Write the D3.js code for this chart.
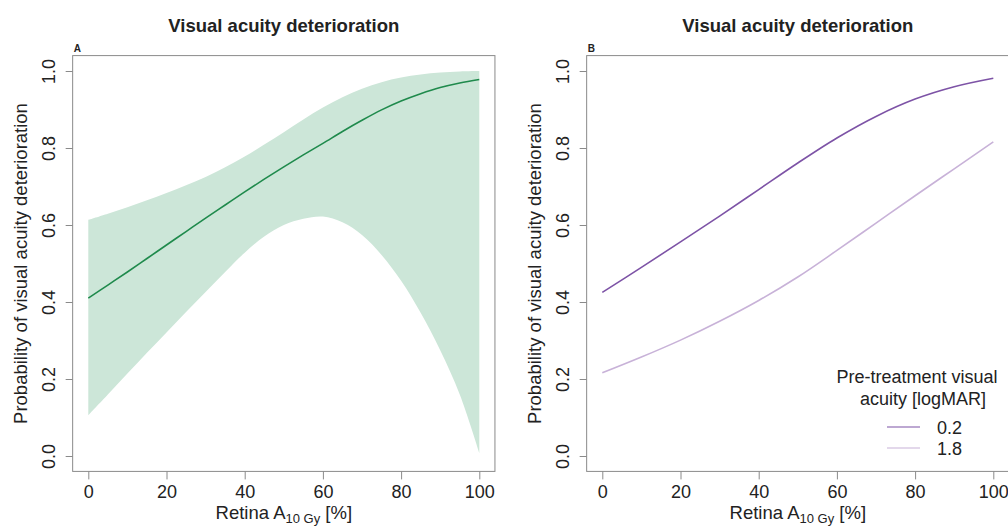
<!DOCTYPE html>
<html>
<head>
<meta charset="utf-8">
<script src="https://cdn.jsdelivr.net/npm/d3@7"></script>
<style>
  body { margin: 0; background: #fff; }
  text { font-family: "Liberation Sans", Arial, sans-serif; fill: #222; }
</style>
</head>
<body>
<script>
var width = 1008
var height = 526

// Panel A: fitted probability with confidence band
var doseA   = [0, 5, 10, 15, 20, 25, 30, 35, 40, 45, 50, 55, 60, 65, 70, 75, 80, 85, 90, 95, 100]
var fitA    = [0.41, 0.444, 0.478, 0.513, 0.548, 0.583, 0.618, 0.652, 0.686, 0.719, 0.751,
               0.782, 0.812, 0.843, 0.872, 0.899, 0.922, 0.941, 0.957, 0.969, 0.978]
var upperA  = [0.613, 0.629, 0.646, 0.664, 0.683, 0.703, 0.725, 0.75, 0.778, 0.809, 0.841,
               0.874, 0.905, 0.932, 0.954, 0.971, 0.983, 0.991, 0.996, 0.999, 1.0]
var lowerA  = [0.106, 0.16, 0.214, 0.268, 0.321, 0.374, 0.426, 0.478, 0.528, 0.57, 0.6,
               0.616, 0.622, 0.607, 0.574, 0.522, 0.455, 0.372, 0.275, 0.16, 0.008]

// Panel B: two pre-treatment acuity levels
var doseB   = [0, 10, 20, 30, 40, 50, 60, 70, 80, 90, 100]
var acuity  = ["0.2", "1.8"]
var probLow  = [0.425, 0.49, 0.556, 0.623, 0.692, 0.761, 0.826, 0.882, 0.927, 0.959, 0.981]
var probHigh = [0.216, 0.257, 0.301, 0.35, 0.404, 0.465, 0.534, 0.605, 0.676, 0.746, 0.816]

var xTicks = [0, 20, 40, 60, 80, 100]
var yTicks = [0, 0.2, 0.4, 0.6, 0.8, 1.0]

var title = "Visual acuity deterioration"
var yTitle = "Probability of visual acuity deterioration"
var legendTitle = ["Pre-treatment visual", "acuity [logMAR]"]

var green = "#1f8a4c"
var band = "#cce6d8"
var purples = ["#7d53a6", "#c8b2d8"]
var grey = "#8a8a8a"
var fs = 18

var svg = d3.select("body")
  .append("svg")
  .attr("width", width)
  .attr("height", height)

function panel(offset, label) {
  var x = d3.scaleLinear().domain([0, 100]).range([88.3 + offset, 479.3 + offset])
  var y = d3.scaleLinear().domain([0, 1]).range([456, 71])
  var g = svg.append("g")

  // plot box (R style 4% padding)
  g.append("rect")
    .attr("x", x(-4)).attr("y", y(1.04))
    .attr("width", x(104) - x(-4)).attr("height", y(-0.04) - y(1.04))
    .attr("fill", "none").attr("stroke", grey).attr("stroke-width", 1)

  // x axis
  var xa = g.append("g")
    .attr("transform", "translate(0," + y(-0.04) + ")")
    .call(d3.axisBottom(x).tickValues(xTicks).tickSize(8).tickPadding(6).tickFormat(d3.format("d")))
  xa.select(".domain").remove()
  xa.selectAll("line").attr("stroke", grey)
  xa.selectAll("text").attr("font-size", fs).attr("fill", "#222")
    .attr("font-family", "Liberation Sans, Arial, sans-serif")

  // y axis with rotated labels
  var ya = g.append("g")
    .attr("transform", "translate(" + x(-4) + ",0)")
    .call(d3.axisLeft(y).tickValues(yTicks).tickSize(7).tickFormat(d3.format(".1f")))
  ya.select(".domain").remove()
  ya.selectAll("line").attr("stroke", grey)
  ya.selectAll("text")
    .attr("x", null).attr("dy", null)
    .attr("text-anchor", "middle")
    .attr("transform", "translate(-18,0) rotate(-90)")
    .attr("font-size", fs).attr("fill", "#222")
    .attr("font-family", "Liberation Sans, Arial, sans-serif")

  // titles
  g.append("text")
    .attr("x", (x(0) + x(100)) / 2).attr("y", 32)
    .attr("text-anchor", "middle")
    .attr("font-size", 18.5).attr("font-weight", "bold")
    .text(title)

  g.append("text")
    .attr("x", x(-4) + 1).attr("y", 52)
    .attr("font-size", 10).attr("font-weight", "bold")
    .text(label)

  var xt = g.append("text")
    .attr("x", (x(0) + x(100)) / 2).attr("y", 519)
    .attr("text-anchor", "middle")
    .attr("font-size", 18.5)
  xt.append("tspan").text("Retina A")
  xt.append("tspan").attr("font-size", 13).attr("dy", 3.5).text("10 Gy")
  xt.append("tspan").attr("dy", -3.5).text(" [%]")

  g.append("text")
    .attr("transform", "translate(" + (27 + offset) + "," + y(0.5) + ") rotate(-90)")
    .attr("text-anchor", "middle")
    .attr("font-size", 18.5)
    .text(yTitle)

  return { g: g, x: x, y: y }
}

var A = panel(0, "A")
var B = panel(514, "B")

// Panel A: band then fitted line
var area = d3.area()
  .x(function(d, i) { return A.x(doseA[i]) })
  .y0(function(d, i) { return A.y(lowerA[i]) })
  .y1(function(d, i) { return A.y(upperA[i]) })
  .curve(d3.curveCatmullRom)

A.g.append("path")
  .datum(doseA)
  .attr("d", area)
  .attr("fill", band)

var lineA = d3.line()
  .x(function(d, i) { return A.x(doseA[i]) })
  .y(function(d) { return A.y(d) })
  .curve(d3.curveCatmullRom)

A.g.append("path")
  .datum(fitA)
  .attr("d", lineA)
  .attr("fill", "none")
  .attr("stroke", green)
  .attr("stroke-width", 1.6)

// Panel B: two curves
var lineB = d3.line()
  .x(function(d, i) { return B.x(doseB[i]) })
  .y(function(d) { return B.y(d) })
  .curve(d3.curveCatmullRom)

B.g.selectAll("path.curve")
  .data([probLow, probHigh])
  .enter()
  .append("path")
  .attr("class", "curve")
  .attr("d", lineB)
  .attr("fill", "none")
  .attr("stroke", function(d, i) { return purples[i] })
  .attr("stroke-width", 1.6)

// legend
var leg = B.g.append("g")
leg.append("text").attr("x", 917).attr("y", 383).attr("text-anchor", "middle")
  .attr("font-size", fs).text(legendTitle[0])
leg.append("text").attr("x", 923).attr("y", 405).attr("text-anchor", "middle")
  .attr("font-size", fs).text(legendTitle[1])

acuity.forEach(function(a, i) {
  var yy = 427 + i * 21
  leg.append("line")
    .attr("x1", 887).attr("x2", 920).attr("y1", yy).attr("y2", yy)
    .attr("stroke", purples[i]).attr("stroke-width", 1.2)
  leg.append("text")
    .attr("x", 937).attr("y", yy + 7)
    .attr("font-size", fs).text(a)
})
</script>
</body>
</html>
